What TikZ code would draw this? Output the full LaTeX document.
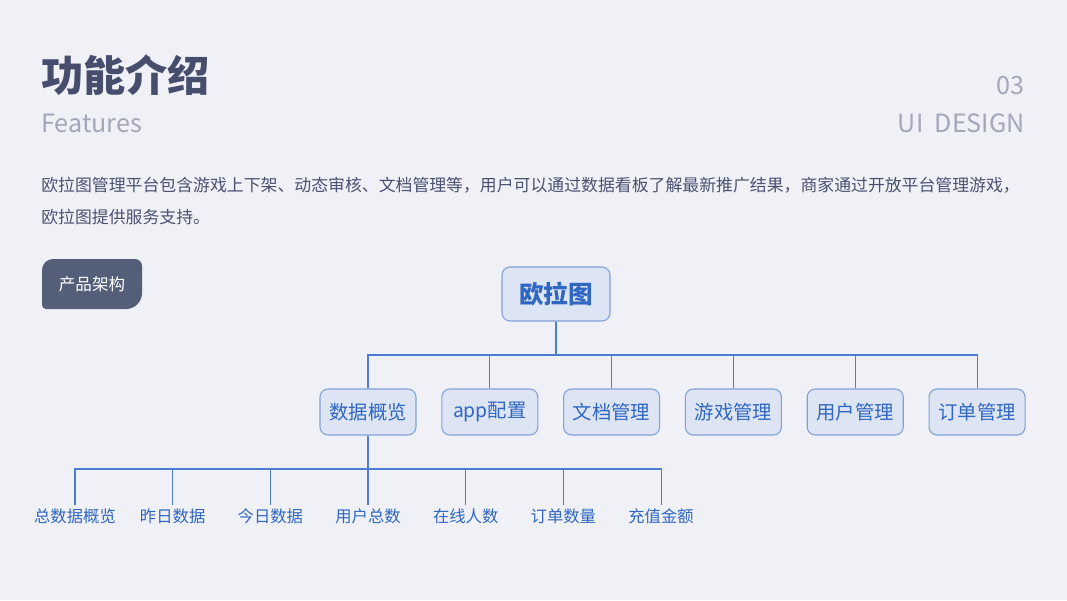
\documentclass[tikz,border=0pt]{standalone}
\usepackage{fontspec}
\setmainfont{Noto Sans CJK SC}
\usepackage{xcolor}
\definecolor{Page}{HTML}{F0F1F6}
\definecolor{Ink}{HTML}{474E6D}
\definecolor{Muted}{HTML}{A2A7BB}
\definecolor{Body}{HTML}{4B5170}
\definecolor{Tag}{HTML}{535E79}
\definecolor{Brand}{HTML}{2F67C2}
\definecolor{Edge}{HTML}{7FA0DA}
\definecolor{Soft}{HTML}{DDE4F3}
\definecolor{Wire}{HTML}{4C7DD0}
\usetikzlibrary{positioning}
\tikzset{
  root/.style={draw=Edge,fill=Soft,rounded corners=1.6mm,minimum width=21.6mm,
    minimum height=10.8mm,inner sep=0pt,line width=0.6pt,text=Brand,
    font=\fontsize{14}{16}\selectfont\bfseries},
  module/.style={draw=Edge,fill=Soft,rounded corners=1.6mm,minimum width=19.2mm,
    minimum height=9.2mm,inner sep=0pt,line width=0.6pt,text=Brand,
    font=\fontsize{11}{13}\selectfont},
  metric/.style={inner sep=1.5pt,text=Brand,font=\fontsize{9.3}{11}\selectfont},
  link/.style={draw=Wire,line width=0.6pt},
  para/.style={anchor=west,inner sep=0pt,text=Body,font=\fontsize{9.6}{12}\selectfont},
  side/.style={inner sep=0pt,text=Muted,font=\fontsize{14.3}{17}\selectfont}
}
\begin{document}
\begin{tikzpicture}[x=0.2mm,y=-0.2mm,node distance=4.95mm]
  \fill[Page] (0,0) rectangle (1067,600);
  % heading
  \node[anchor=west,inner sep=0pt,text=Ink,font=\fontsize{24}{28}\selectfont\bfseries] (title) at (41,75) {功能介绍};
  \node[side,anchor=west] (subtitle) at (41,123) {Features};
  \node[side,anchor=east] (page) at (1025,86) {03};
  \node[side,anchor=east] (brand) at (1025,123) {UI\hspace{0.45em}DESIGN};
  \node[para] (line1) at (41,185) {欧拉图管理平台包含游戏上下架、动态审核、文档管理等，用户可以通过数据看板了解最新推广结果，商家通过开放平台管理游戏，};
  \node[para] (line2) at (41,217) {欧拉图提供服务支持。};
  % tag
  \fill[Tag] (92,259) [rounded corners=1.4mm] -- (142,259) [rounded corners=3.2mm] -- (142,309)
    [rounded corners=0.8mm] -- (42,309) [rounded corners=2.2mm] -- (42,259) -- cycle;
  \node[text=white,font=\fontsize{9.4}{11}\selectfont] (tag) at (92,284) {产品架构};
  % tree
  \node[root] (euler) at (556,294) {欧拉图};
  \node[module] (data) at (368,412) {数据概览};
  \node[module, right=of data] (app) {app配置};
  \node[module, right=of app] (doc) {文档管理};
  \node[module, right=of doc] (game) {游戏管理};
  \node[module, right=of game] (user) {用户管理};
  \node[module, right=of user] (order) {订单管理};
  \coordinate (hub) at (556,355);
  \draw[link] (euler) -- (hub);
  \foreach \m in {data,app,doc,game,user,order}
    \draw[link] (hub) -| (\m.north);
  \foreach \t [count=\i from 0] in {总数据概览,昨日数据,今日数据,用户总数,在线人数,订单数量,充值金额}
    \node[metric] (k\i) at ({75+\i*97.67},516) {\t};
  \coordinate (tap) at (368,469);
  \draw[link] (data) -- (tap);
  \foreach \i in {0,...,6}
    \draw[link] (tap) -| (k\i.north);
\end{tikzpicture}
\end{document}
